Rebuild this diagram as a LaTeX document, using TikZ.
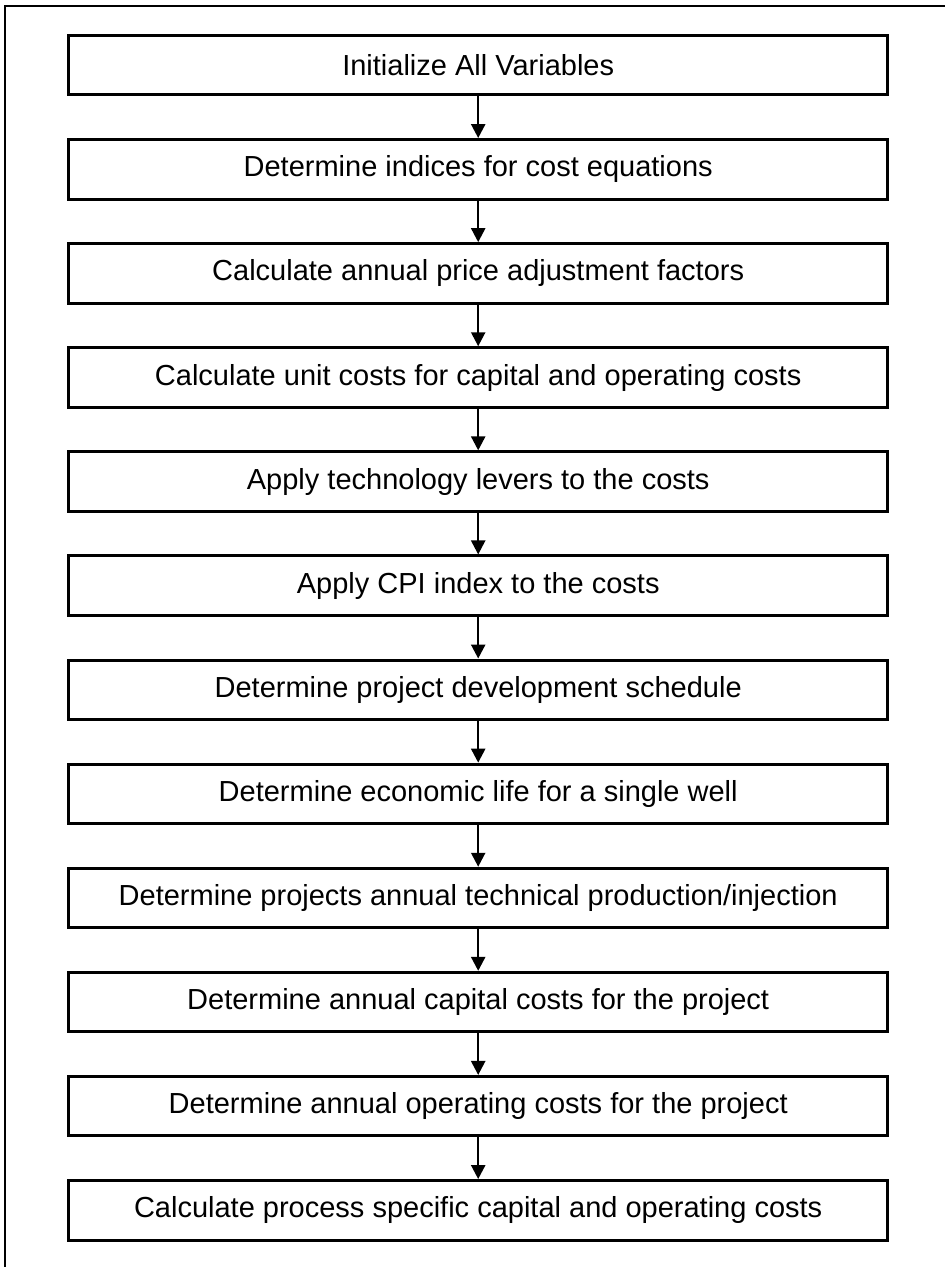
\documentclass[tikz,border=0pt]{standalone}
\usepackage{fontspec}
\setmainfont{Liberation Sans}
\usetikzlibrary{arrows.meta}
\tikzset{
  stepbox/.style={draw=black, line width=3pt, minimum width=819.5pt, minimum height=59.5pt, inner sep=0pt, font=\fontsize{29}{34}\selectfont, text=black},
  arr/.style={draw=black, line width=2.4pt, -{Triangle[length=14pt,width=14pt]}},
  frame/.style={draw=black, line width=2pt}
}
\begin{document}
\begin{tikzpicture}[x=1pt,y=-1pt]
\useasboundingbox (0,0) rectangle (945,1267);
\coordinate (fa) at (4.5,1270);
\coordinate (fb) at (4.5,5.5);
\coordinate (fc) at (948,5.5);
\draw[frame] (fa) -- (fb) -- (fc);
\node[stepbox] (n1)  at (478.2, 65.2) {Initialize All Variables};
\node[stepbox] (n2)  at (478.2, 169.3) {Determine indices for cost equations};
\node[stepbox] (n3)  at (478.2, 273.4) {Calculate annual price adjustment factors};
\node[stepbox] (n4)  at (478.2, 377.5) {Calculate unit costs for capital and operating costs};
\node[stepbox] (n5)  at (478.2, 481.6) {Apply technology levers to the costs};
\node[stepbox] (n6)  at (478.2, 585.7) {Apply CPI index to the costs};
\node[stepbox] (n7)  at (478.2, 689.8) {Determine project development schedule};
\node[stepbox] (n8)  at (478.2, 793.9) {Determine economic life for a single well};
\node[stepbox] (n9)  at (478.2, 898.0) {Determine projects annual technical production/injection};
\node[stepbox] (n10) at (478.2, 1002.1) {Determine annual capital costs for the project};
\node[stepbox] (n11) at (478.2, 1106.2) {Determine annual operating costs for the project};
\node[stepbox] (n12) at (478.2, 1210.3) {Calculate process specific capital and operating costs};
\foreach \a/\b in {n1/n2,n2/n3,n3/n4,n4/n5,n5/n6,n6/n7,n7/n8,n8/n9,n9/n10,n10/n11,n11/n12}
  \draw[arr] (\a.south) -- (\b.north);
\end{tikzpicture}
\end{document}
